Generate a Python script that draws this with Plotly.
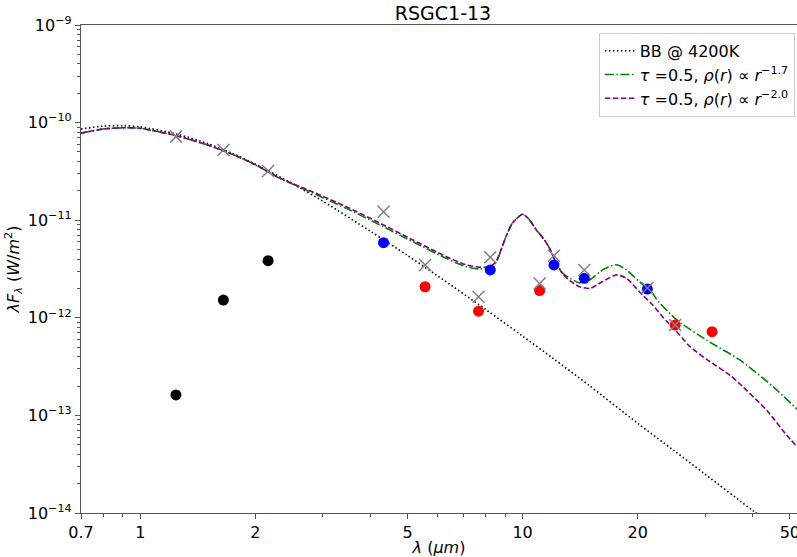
import plotly.graph_objects as go

# ---------------- data ----------------
bb_wl = [0.7, 0.8, 0.9, 1.0, 1.25, 1.5, 1.75, 2.0, 2.5, 3.0, 4.0, 5.0, 6.0, 8.0,
         10, 12, 15, 20, 25, 30, 40, 45]
bb_f = [8.6e-11, 9.2e-11, 9.3e-11, 9.05e-11, 7.6e-11, 6.1e-11, 4.8e-11, 3.75e-11,
        2.37e-11, 1.57e-11, 7.7e-12, 4.35e-12, 2.68e-12, 1.22e-12, 6.5e-13,
        3.85e-13, 2.0e-13, 8.3e-14, 4.3e-14, 2.5e-14, 1.06e-14, 7.6e-15]

green_wl = [0.7, 0.8, 0.9, 1.0, 1.25, 1.5, 1.75, 2.0, 2.31, 2.8, 3.45, 4.2, 5.15,
            6.3, 7.1, 7.7, 8.2, 8.5, 8.7, 9.05, 9.4, 10.0, 10.4, 10.85, 11.4,
            11.75, 12.25, 12.75, 13.4, 14.1, 15.0, 16.2, 17.6, 18.7, 20.2, 21.9,
            22.4, 25.3, 30.3, 37.0, 45.2, 52.2]
green_f = [7.8e-11, 8.6e-11, 8.85e-11, 8.75e-11, 7.3e-11, 5.9e-11, 4.7e-11, 3.7e-11,
           2.7e-11, 1.93e-11, 1.33e-11, 9.1e-12, 6.05e-12, 4.08e-12, 3.35e-12,
           3.17e-12, 3.25e-12, 3.6e-12, 4.45e-12, 6.8e-12, 9.3e-12, 1.15e-11,
           1.02e-11, 8.0e-12, 6.3e-12, 5.2e-12, 3.65e-12, 2.85e-12, 2.5e-12,
           2.28e-12, 2.45e-12, 3.1e-12, 3.5e-12, 3.1e-12, 2.35e-12, 1.78e-12,
           1.55e-12, 9.5e-13, 5.9e-13, 3.7e-13, 1.97e-13, 1.16e-13]

purple_wl = [0.7, 0.8, 0.9, 1.0, 1.25, 1.5, 1.75, 2.0, 2.31, 2.8, 3.45, 4.2, 5.15,
             6.3, 7.1, 7.7, 8.2, 8.5, 8.7, 9.05, 9.4, 10.0, 10.4, 10.85, 11.4,
             11.75, 12.25, 12.75, 13.4, 14.1, 15.0, 16.2, 17.6, 18.7, 20.2, 21.9,
             23.8, 25.0, 27.4, 30.3, 35.0, 37.0, 43.5, 49.0, 52.2]
purple_f = [7.8e-11, 8.6e-11, 8.85e-11, 8.75e-11, 7.3e-11, 5.9e-11, 4.7e-11, 3.7e-11,
            2.72e-11, 1.98e-11, 1.38e-11, 9.5e-12, 6.3e-12, 4.25e-12, 3.5e-12,
            3.3e-12, 3.35e-12, 3.7e-12, 4.5e-12, 6.8e-12, 9.3e-12, 1.15e-11,
            1.02e-11, 8.0e-12, 6.3e-12, 5.2e-12, 3.6e-12, 2.8e-12, 2.35e-12,
            2.08e-12, 2.0e-12, 2.35e-12, 2.75e-12, 2.54e-12, 1.85e-12, 1.35e-12,
            9.2e-13, 7.6e-13, 5.06e-13, 3.75e-13, 2.55e-13, 2.1e-13, 1.13e-13,
            6.3e-14, 4.8e-14]

black_wl = [1.24, 1.65, 2.16]
black_f = [1.62e-13, 1.52e-12, 3.85e-12]

blue_wl = [4.33, 8.23, 12.08, 14.5, 21.2]
blue_f = [5.89e-12, 3.09e-12, 3.48e-12, 2.54e-12, 1.97e-12]

red_wl = [5.56, 7.67, 11.08, 25.06, 31.3]
red_f = [2.08e-12, 1.17e-12, 1.90e-12, 8.43e-13, 7.21e-13]

cross_wl = [1.24, 1.65, 2.16, 4.33, 5.56, 7.67, 8.23, 11.08, 12.08, 14.5, 21.2, 25.06]
cross_f = [7.18e-11, 5.24e-11, 3.19e-11, 1.22e-11, 3.48e-12, 1.64e-12, 4.17e-12,
           2.25e-12, 4.33e-12, 3.09e-12, 2.02e-12, 8.43e-13]

x_ticks = [0.7, 1, 2, 5, 10, 20, 50]
x_ticktext = ["0.7", "1", "2", "5", "10", "20", "50"]
x_minor = [0.8, 0.9, 3, 4, 6, 7, 8, 9, 30, 40]
y_exps = [-14, -13, -12, -11, -10, -9]

# ---------------- figure ----------------
FONT = "DejaVu Sans"
fig = go.Figure()

fig.add_trace(go.Scatter(x=bb_wl, y=bb_f, mode="lines", name="BB @ 4200K",
                         line=dict(color="black", width=1.6, dash="1.5px,2.5px",
                                   shape="spline", smoothing=0.8)))
fig.add_trace(go.Scatter(x=green_wl, y=green_f, mode="lines",
                         name="<i>τ</i> =0.5, <i>ρ</i>(<i>r</i>) ∝ <i>r</i><sup>−1.7</sup>",
                         line=dict(color="green", width=1.6, dash="9px,2.5px,1.5px,2.5px",
                                   shape="spline", smoothing=0.6)))
fig.add_trace(go.Scatter(x=purple_wl, y=purple_f, mode="lines",
                         name="<i>τ</i> =0.5, <i>ρ</i>(<i>r</i>) ∝ <i>r</i><sup>−2.0</sup>",
                         line=dict(color="purple", width=1.6, dash="5.5px,2.5px",
                                   shape="spline", smoothing=0.6)))

fig.add_trace(go.Scatter(x=black_wl, y=black_f, mode="markers", showlegend=False,
                         marker=dict(color="black", size=11, line=dict(width=0))))
fig.add_trace(go.Scatter(x=blue_wl, y=blue_f, mode="markers", showlegend=False,
                         marker=dict(color="blue", size=11, line=dict(width=0))))
fig.add_trace(go.Scatter(x=red_wl, y=red_f, mode="markers", showlegend=False,
                         marker=dict(color="red", size=11, line=dict(width=0))))
fig.add_trace(go.Scatter(x=cross_wl, y=cross_f, mode="markers", showlegend=False,
                         marker=dict(symbol="x-thin", color="gray", size=12,
                                     line=dict(color="gray", width=1.5))))

axis_color = "#555555"
fig.update_layout(
    width=797, height=557,
    margin=dict(l=81, r=0, t=25, b=44, autoexpand=False),
    paper_bgcolor="white", plot_bgcolor="white",
    font=dict(family=FONT, size=16, color="black"),
    title=dict(text="RSGC1-13", x=443 / 797, xref="container", xanchor="center",
               y=1 - 13.5 / 557, yref="container", yanchor="middle",
               font=dict(family=FONT, size=19, color="black")),
    showlegend=True,
    legend=dict(x=0.997, y=0.984, xanchor="right", yanchor="top",
                bgcolor="rgba(255,255,255,0.8)", bordercolor="#cccccc", borderwidth=1,
                font=dict(family=FONT, size=16, color="black"),
                tracegroupgap=0),
    xaxis=dict(type="log", range=[-0.1549, 1.7177],
               tickmode="array", tickvals=x_ticks, ticktext=x_ticktext,
               ticklabeloverflow="allow",
               ticks="outside", ticklen=5, tickwidth=1, tickcolor=axis_color,
               minor=dict(tickmode="array", tickvals=x_minor, ticks="outside",
                          ticklen=3, tickwidth=1, tickcolor=axis_color, showgrid=False),
               showline=True, linecolor=axis_color, linewidth=1.2, mirror=True,
               showgrid=False, zeroline=False,
               tickfont=dict(family=FONT, size=16, color="black"),
               title=dict(text="<i>λ</i> (<i>μm</i>)", standoff=4,
                          font=dict(family=FONT, size=16, color="black"))),
    yaxis=dict(type="log", range=[-14, -9],
               tickmode="array", tickvals=[10.0 ** e for e in y_exps],
               ticktext=["10<sup>−%d</sup>" % (-e) for e in y_exps],
               ticks="outside", ticklen=5, tickwidth=1, tickcolor=axis_color,
               minor=dict(tickmode="array",
                          tickvals=[m * 10.0 ** e for e in y_exps[:-1] for m in range(2, 10)],
                          ticks="outside", ticklen=3, tickwidth=1,
                          tickcolor=axis_color, showgrid=False),
               showline=True, linecolor=axis_color, linewidth=1.2, mirror=False,
               showgrid=False, zeroline=False,
               tickfont=dict(family=FONT, size=16, color="black"),
               title=dict(text="<i>λF</i><sub><i>λ</i></sub> (<i>W</i>/<i>m</i><sup>2</sup>)",
                          standoff=4,
                          font=dict(family=FONT, size=16, color="black"))),
)

fig.write_html("out.html")
